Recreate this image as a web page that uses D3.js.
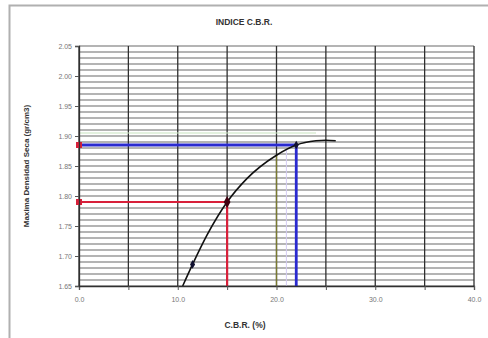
<!DOCTYPE html>
<html>
<head>
<meta charset="utf-8">
<script src="https://cdn.jsdelivr.net/npm/d3@7"></script>
<style>
  body { margin: 0; background: #fff; }
  svg { display: block; font-family: "Liberation Sans", Arial, sans-serif; }
</style>
</head>
<body>
<svg id="svg"></svg>
<script>
let svg = d3.select("#svg");

const width = 488;
const height = 338;

// curve (C.B.R. %, density gr/cm3)
const curveCbr = [10.5, 11.5, 13, 15, 17, 20, 22, 24, 25, 26];
const curveDens = [1.65, 1.686, 1.736, 1.79, 1.829, 1.868, 1.885, 1.892, 1.893, 1.892];

// measured points on the curve
const markCbr = [11.5, 15, 22];
const markDens = [1.686, 1.79, 1.885];

// reference lines (95% / 100% density)
const refCbr = [15, 22];
const refDens = [1.79, 1.885];
const refColors = ["#d8203a", "#2a2ad0"];

const xTicks = [0, 10, 20, 30, 40];
const yTicks = [1.65, 1.70, 1.75, 1.80, 1.85, 1.90, 1.95, 2.00, 2.05];

const margin = {left: 79, right: 14, top: 46, bottom: 52};

svg.attr("width", width).attr("height", height);

// outer chart frame
svg.append("rect")
    .attr("x", 9.5).attr("y", 5.5)
    .attr("width", width + 10).attr("height", height + 10)
    .attr("fill", "none")
    .attr("stroke", "#b0b0b0")
    .attr("stroke-width", 2);

let x = d3.scaleLinear().domain([0, 40]).range([margin.left, width - margin.right]);
let y = d3.scaleLinear().domain([1.65, 2.05]).range([height - margin.bottom, margin.top]);

let plot = svg.append("g");

// horizontal minor grid every 0.01
let hLines = d3.range(0, 41).map(i => 1.65 + i * 0.01);
plot.selectAll(".hgrid")
    .data(hLines)
    .enter()
    .append("line")
        .attr("x1", x(0)).attr("x2", x(40))
        .attr("y1", d => y(d)).attr("y2", d => y(d))
        .attr("stroke", "#b4b4b4")
        .attr("stroke-width", 2.2);

// vertical grid every 5
plot.selectAll(".vgrid")
    .data(d3.range(0, 45, 5))
    .enter()
    .append("line")
        .attr("x1", d => x(d)).attr("x2", d => x(d))
        .attr("y1", y(1.65)).attr("y2", y(2.05))
        .attr("stroke", "#303030")
        .attr("stroke-width", 1.3);

// faint coloured helper lines
plot.append("line")
    .attr("x1", x(20)).attr("x2", x(20))
    .attr("y1", y(1.65)).attr("y2", y(1.868))
    .attr("stroke", "#7a7a30").attr("stroke-width", 1.3);
plot.append("line")
    .attr("x1", x(0)).attr("x2", x(24))
    .attr("y1", y(1.905)).attr("y2", y(1.905))
    .attr("stroke", "#c8e4c0").attr("stroke-width", 1.2);
plot.append("line")
    .attr("x1", x(21)).attr("x2", x(21))
    .attr("y1", y(1.65)).attr("y2", y(1.878))
    .attr("stroke", "#d4ccf4").attr("stroke-width", 1);

// reference lines
refCbr.forEach((c, i) => {
    let g = plot.append("g").attr("stroke", refColors[i]).attr("stroke-width", i === 1 ? 2.8 : 2.2);
    g.append("line")
        .attr("x1", x(0)).attr("x2", x(c))
        .attr("y1", y(refDens[i])).attr("y2", y(refDens[i]));
    g.append("line")
        .attr("x1", x(c)).attr("x2", x(c))
        .attr("y1", y(refDens[i])).attr("y2", y(1.65));
    plot.append("rect")
        .attr("x", x(0) - 3).attr("y", y(refDens[i]) - 3)
        .attr("width", 6).attr("height", 6)
        .attr("fill", "#d8203a");
});

// curve
let curveData = curveCbr.map((c, i) => [c, curveDens[i]]);
plot.append("path")
    .datum(curveData)
    .attr("fill", "none")
    .attr("stroke", "#111")
    .attr("stroke-width", 1.6)
    .attr("d", d3.line().x(d => x(d[0])).y(d => y(d[1])).curve(d3.curveMonotoneX));

plot.selectAll(".mark")
    .data(markCbr.map((c, i) => [c, markDens[i]]))
    .enter()
    .append("path")
        .attr("transform", d => `translate(${x(d[0])},${y(d[1])})`)
        .attr("d", (d, i) => d3.symbol().type(d3.symbolDiamond).size(i === 1 ? 40 : 22)())
        .attr("fill", (d, i) => i === 1 ? "#400010" : "#101030");

// axes
let xAxis = svg.append("g")
    .attr("transform", `translate(0,${y(1.65)})`)
    .call(d3.axisBottom(x).tickValues(d3.range(0, 45, 5)).tickSize(4).tickFormat(d => xTicks.includes(d) ? d3.format(".1f")(d) : ""));
let yAxis = svg.append("g")
    .attr("transform", `translate(${x(0)},0)`)
    .call(d3.axisLeft(y).tickValues(yTicks).tickSize(4).tickFormat(d3.format(".2f")));

[xAxis, yAxis].forEach(a => {
    a.select(".domain").attr("stroke", "#303030").attr("stroke-width", 1.3);
    a.selectAll(".tick line").attr("stroke", "#555");
    a.selectAll("text").attr("fill", "#777").style("font-size", "7px");
});
xAxis.selectAll("text").attr("dy", "1.3em");

// titles
svg.append("text")
    .attr("x", 244).attr("y", 25)
    .attr("text-anchor", "middle")
    .style("font-size", "8.5px").style("font-weight", "bold")
    .attr("fill", "#333")
    .text("INDICE C.B.R.");

svg.append("text")
    .attr("x", 245).attr("y", 328)
    .attr("text-anchor", "middle")
    .style("font-size", "8.5px").style("font-weight", "bold")
    .attr("fill", "#333")
    .text("C.B.R. (%)");

svg.append("text")
    .attr("transform", "translate(29,166) rotate(-90)")
    .attr("text-anchor", "middle")
    .style("font-size", "8px").style("font-weight", "bold")
    .attr("fill", "#333")
    .text("Maxima Densidad Seca (gr/cm3)");
</script>
</body>
</html>
